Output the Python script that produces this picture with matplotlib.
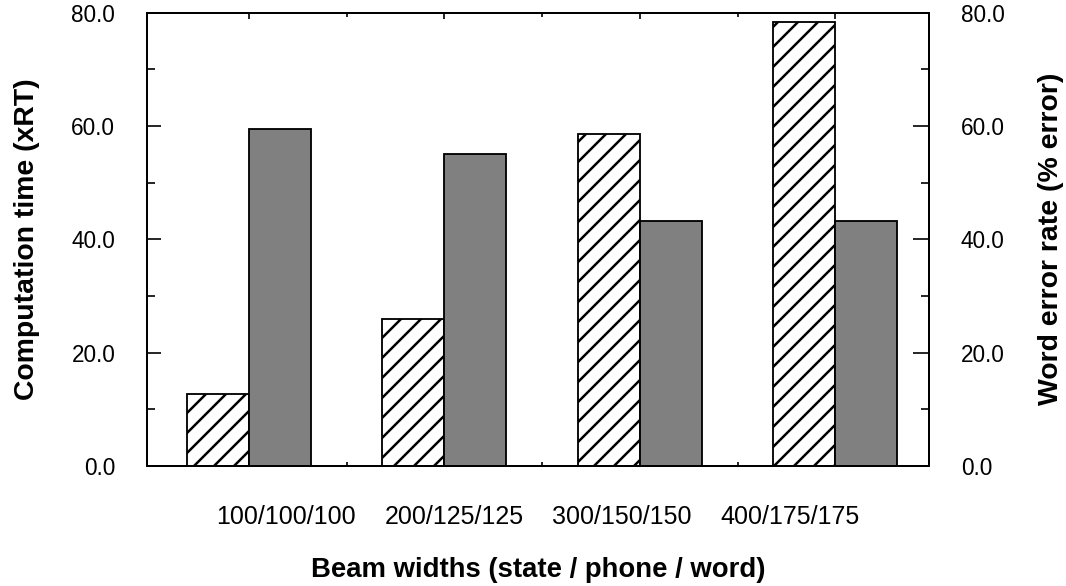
import numpy as np
import matplotlib
matplotlib.use("Agg")
import matplotlib.pyplot as plt
from matplotlib.ticker import MultipleLocator, FormatStrFormatter

# ---- data ----
categories = ["100/100/100", "200/125/125", "300/150/150", "400/175/175"]
computation_time = [12.7, 25.9, 58.6, 78.3]   # xRT (left axis, hatched)
word_error_rate = [59.4, 55.0, 43.3, 43.3]    # % error (right axis, gray)

plt.rcParams['font.family'] = ['Liberation Sans', 'DejaVu Sans']
plt.rcParams['hatch.linewidth'] = 1.5

DPI = 120
fig = plt.figure(figsize=(1066 / DPI, 586 / DPI), dpi=DPI)
L, R, B, T = 147 / 1066, 929 / 1066, (586 - 466) / 586, (586 - 12.5) / 586
ax = fig.add_axes([L, B, R - L, T - B])
ax2 = ax.twinx()

x = np.arange(len(categories))
w = 0.317
ax.bar(x - w / 2, computation_time, width=w, facecolor='white',
       edgecolor='black', hatch='//', linewidth=1.1, zorder=2)
ax2.bar(x + w / 2, word_error_rate, width=w, facecolor='#808080',
        edgecolor='black', linewidth=1.1, zorder=2)

for a in (ax, ax2):
    a.set_ylim(0, 80)
    a.set_xlim(-0.522, 3.48)
    a.yaxis.set_major_locator(MultipleLocator(20))
    a.yaxis.set_minor_locator(MultipleLocator(10))
    a.yaxis.set_major_formatter(FormatStrFormatter('%.1f'))
    for s in a.spines.values():
        s.set_linewidth(1.2)

ax.tick_params(axis='y', which='major', direction='in', length=8.5, width=1.0,
               pad=19, labelsize=13.5, left=True, right=False)
ax.tick_params(axis='y', which='minor', direction='in', length=4.8, width=1.0,
               left=True, right=False)
ax2.tick_params(axis='y', which='major', direction='in', length=9.5, width=1.0,
                pad=19, labelsize=13.5, right=True, left=False)
ax2.tick_params(axis='y', which='minor', direction='in', length=4.8, width=1.0,
                right=True, left=False)

# x ticks: group centres on top, group boundaries top & bottom
ax.set_xticks(x)
ax.set_xticks(x[:-1] + 0.5, minor=True)
ax.tick_params(axis='x', which='major', direction='in', length=3.5, width=1.0,
               top=True, bottom=False, labelbottom=False)
ax.tick_params(axis='x', which='minor', direction='in', length=2.5, width=1.0,
               top=True, bottom=True)
ax2.tick_params(axis='x', which='both', top=False, bottom=False)

# category labels (placed as in the original, not under the groups)
label_pos = np.linspace(0.178, 0.822, len(categories))
for px, lab in zip(label_pos, categories):
    ax.text(px, -0.113, lab, transform=ax.transAxes, ha='center', va='center',
            fontsize=15)

ax.set_ylabel('Computation time (xRT)', fontsize=17, fontweight='bold',
              labelpad=19)
ax2.set_ylabel('Word error rate (% error)', fontsize=17, fontweight='bold',
               labelpad=20)
fig.text((L + R) / 2, 16 / 586, 'Beam widths (state / phone / word)',
         ha='center', va='center', fontsize=16.5, fontweight='bold')

fig.savefig('out.png', dpi=DPI)
